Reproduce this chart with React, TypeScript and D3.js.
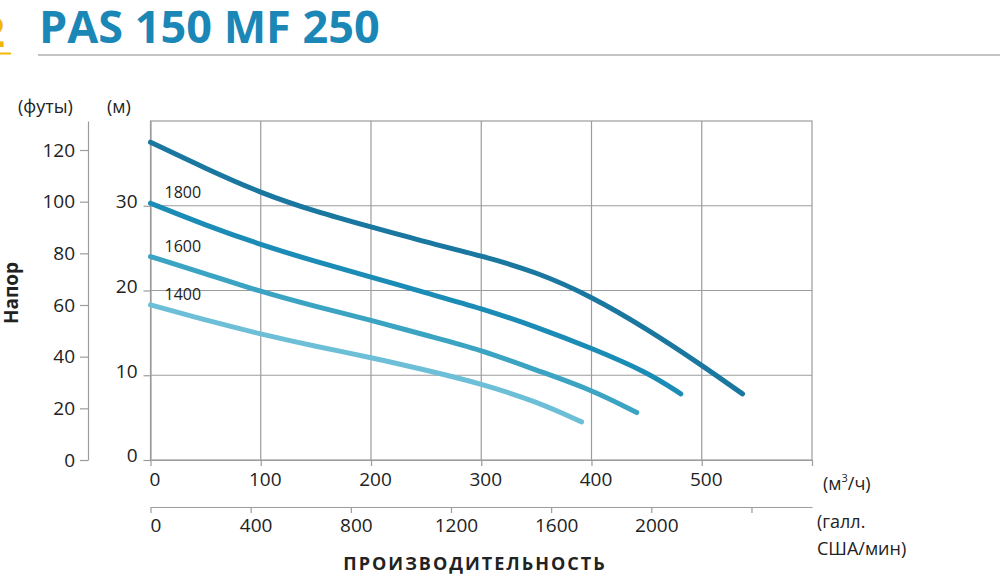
import React, { useEffect, useRef } from "react";
import * as d3 from "d3";

// Q–H curves of the pump: flow in m³/h, head in m
const flowTop = [0, 50, 100, 150, 200, 250, 300, 350, 400, 450, 500, 537];
const headTop = [37.5, 34.4, 31.5, 29.3, 27.5, 25.7, 24.1, 22.2, 19.3, 15.5, 11.2, 7.8];

const flow1800 = [0, 50, 100, 150, 200, 250, 300, 350, 400, 450, 481];
const head1800 = [30.3, 27.7, 25.4, 23.4, 21.6, 19.7, 17.9, 15.7, 13.2, 10.4, 7.8];

const flow1600 = [0, 50, 100, 150, 200, 250, 300, 350, 400, 441];
const head1600 = [24.0, 22.0, 19.85, 18.1, 16.5, 14.7, 13.0, 10.6, 8.3, 5.6];

const flow1400 = [0, 50, 100, 150, 200, 250, 300, 350, 391];
const head1400 = [18.3, 16.5, 14.85, 13.4, 12.1, 10.6, 9.0, 6.9, 4.5];

const curveNames = ["", "1800", "1600", "1400"];
const curveColors = ["#1a77a0", "#1b8cb6", "#3aa4c2", "#6dbfd7"];

// tick values
const headMTicks = [0, 10, 20, 30];
const headFtTicks = [0, 20, 40, 60, 80, 100, 120];
const flowM3Ticks = [0, 100, 200, 300, 400, 500, 600];
const flowGpmTicks = [0, 400, 800, 1200, 1600, 2000, 2400];

const M_TO_FT = 3.2808;
const M3H_TO_GPM = 4.4029;

const FONT = "'Open Sans', sans-serif";
const TEXT = "#222";
const GRID = "#9c9c9c";

interface Pt {
  q: number;
  h: number;
}

const App: React.FC = () => {
  const svgRef = useRef<SVGSVGElement>(null);

  useEffect(() => {
    if (!svgRef.current) return;
    const svg = d3.select(svgRef.current);
    svg.selectAll("*").remove();

    const left = 150.5;
    const right = 812;
    const top = 121;
    const bottom = 460;

    const x = d3.scaleLinear().domain([0, 600]).range([left, right]);
    const y = d3.scaleLinear().domain([0, 40]).range([bottom, top]);
    const yFt = d3.scaleLinear().domain([0, 40 * M_TO_FT]).range([bottom, top]);
    const xGpm = d3.scaleLinear().domain([0, 600 * M3H_TO_GPM]).range([left, right]);

    // header
    svg
      .append("text")
      .attr("x", -19)
      .attr("y", 47)
      .attr("font-family", FONT)
      .attr("font-weight", 700)
      .attr("font-size", 42)
      .attr("fill", "#f2b705")
      .text("2");
    svg
      .append("line")
      .attr("x1", 0)
      .attr("x2", 11)
      .attr("y1", 53.5)
      .attr("y2", 53.5)
      .attr("stroke", "#f2b705")
      .attr("stroke-width", 2);
    svg
      .append("text")
      .attr("x", 39)
      .attr("y", 43)
      .attr("font-family", FONT)
      .attr("font-weight", 700)
      .attr("font-size", 45)
      .attr("fill", "#1a87b7")
      .text("PAS 150 MF 250");
    svg
      .append("line")
      .attr("x1", 38)
      .attr("x2", 1000)
      .attr("y1", 55)
      .attr("y2", 55)
      .attr("stroke", "#c4c4c4")
      .attr("stroke-width", 2);

    // grid + frame
    const grid = svg.append("g").attr("stroke", GRID).attr("stroke-width", 1.2);
    [100, 200, 300, 400, 500].forEach((v) =>
      grid
        .append("line")
        .attr("x1", x(v))
        .attr("x2", x(v))
        .attr("y1", top)
        .attr("y2", bottom)
    );
    [10, 20, 30].forEach((v) =>
      grid
        .append("line")
        .attr("x1", left)
        .attr("x2", right)
        .attr("y1", y(v))
        .attr("y2", y(v))
    );
    grid
      .append("rect")
      .attr("x", left)
      .attr("y", top)
      .attr("width", right - left)
      .attr("height", bottom - top)
      .attr("fill", "none");

    const styleAxis = (g: d3.Selection<SVGGElement, unknown, null, undefined>) => {
      g.attr("font-family", FONT).attr("font-size", 19);
      g.selectAll(".domain").attr("stroke", GRID).attr("stroke-width", 1.2);
      g.selectAll(".tick line").attr("stroke", GRID).attr("stroke-width", 1.2);
      g.selectAll(".tick text").attr("fill", TEXT);
    };

    // feet axis
    const ftAxis = svg
      .append("g")
      .attr("transform", "translate(88,0)")
      .call(
        d3
          .axisLeft(yFt)
          .tickValues(headFtTicks)
          .tickSize(8)
          .tickSizeOuter(0)
          .tickPadding(5)
      );
    styleAxis(ftAxis);

    // metre axis
    const mAxis = svg
      .append("g")
      .attr("transform", `translate(${left},0)`)
      .call(
        d3
          .axisLeft(y)
          .tickValues(headMTicks)
          .tickSize(7)
          .tickSizeOuter(0)
          .tickPadding(6)
      );
    styleAxis(mAxis);
    mAxis.selectAll(".tick text").attr("dy", "0.1em");

    // m³/h axis
    const qAxis = svg
      .append("g")
      .attr("transform", `translate(0,${bottom})`)
      .call(
        d3
          .axisBottom(x)
          .tickValues(flowM3Ticks)
          .tickSize(6)
          .tickSizeOuter(0)
          .tickPadding(6.5)
          .tickFormat((d) => (+d === 600 ? "" : String(d)))
      );
    styleAxis(qAxis);
    qAxis.selectAll(".tick text").attr("x", 4);

    // US gpm axis
    const gAxis = svg
      .append("g")
      .attr("transform", "translate(0,507)")
      .call(
        d3
          .axisBottom(xGpm)
          .tickValues(flowGpmTicks)
          .tickSize(6)
          .tickSizeOuter(0)
          .tickPadding(5.5)
          .tickFormat((d) => (+d === 2400 ? "" : String(d)))
      );
    styleAxis(gAxis);
    gAxis.selectAll(".tick text").attr("x", 5);

    // curves
    const line = d3
      .line<Pt>()
      .x((d) => x(d.q))
      .y((d) => y(d.h))
      .curve(d3.curveBasis);

    const series: Pt[][] = [
      flowTop.map((q, i) => ({ q, h: headTop[i] })),
      flow1800.map((q, i) => ({ q, h: head1800[i] })),
      flow1600.map((q, i) => ({ q, h: head1600[i] })),
      flow1400.map((q, i) => ({ q, h: head1400[i] })),
    ];

    series.forEach((pts, i) => {
      svg
        .append("path")
        .datum(pts)
        .attr("fill", "none")
        .attr("stroke", curveColors[i])
        .attr("stroke-width", 5)
        .attr("stroke-linecap", "round")
        .attr("d", line);
      if (curveNames[i]) {
        svg
          .append("text")
          .attr("x", x(pts[0].q) + 14)
          .attr("y", y(pts[0].h) - 5)
          .attr("font-family", FONT)
          .attr("font-size", 16)
          .attr("fill", TEXT)
          .text(curveNames[i]);
      }
    });

    // axis titles
    const label = (tx: number, ty: number, t: string, size = 18) =>
      svg
        .append("text")
        .attr("x", tx)
        .attr("y", ty)
        .attr("font-family", FONT)
        .attr("font-size", size)
        .attr("fill", TEXT)
        .text(t);

    label(18, 113, "(футы)");
    label(107, 113, "(м)");

    const unit = label(823, 490, "(м");
    unit.append("tspan").attr("font-size", 11).attr("dy", -8).text("3");
    unit.append("tspan").attr("dy", 8).text("/ч)");

    label(817, 528, "(галл.");
    label(817, 555, "США/мин)");

    svg
      .append("text")
      .attr("transform", "translate(18,293) rotate(-90)")
      .attr("text-anchor", "middle")
      .attr("font-family", FONT)
      .attr("font-weight", 700)
      .attr("font-size", 19)
      .attr("fill", TEXT)
      .text("Напор");

    svg
      .append("text")
      .attr("x", 475)
      .attr("y", 570)
      .attr("text-anchor", "middle")
      .attr("font-family", FONT)
      .attr("font-weight", 700)
      .attr("font-size", 18)
      .attr("letter-spacing", 2)
      .attr("fill", TEXT)
      .text("ПРОИЗВОДИТЕЛЬНОСТЬ");
  }, []);

  return (
    <div style={{ position: "absolute", left: 0, top: 0, background: "#fff" }}>
      <svg ref={svgRef} width={1000} height={588} style={{ display: "block" }} />
    </div>
  );
};

export default App;
